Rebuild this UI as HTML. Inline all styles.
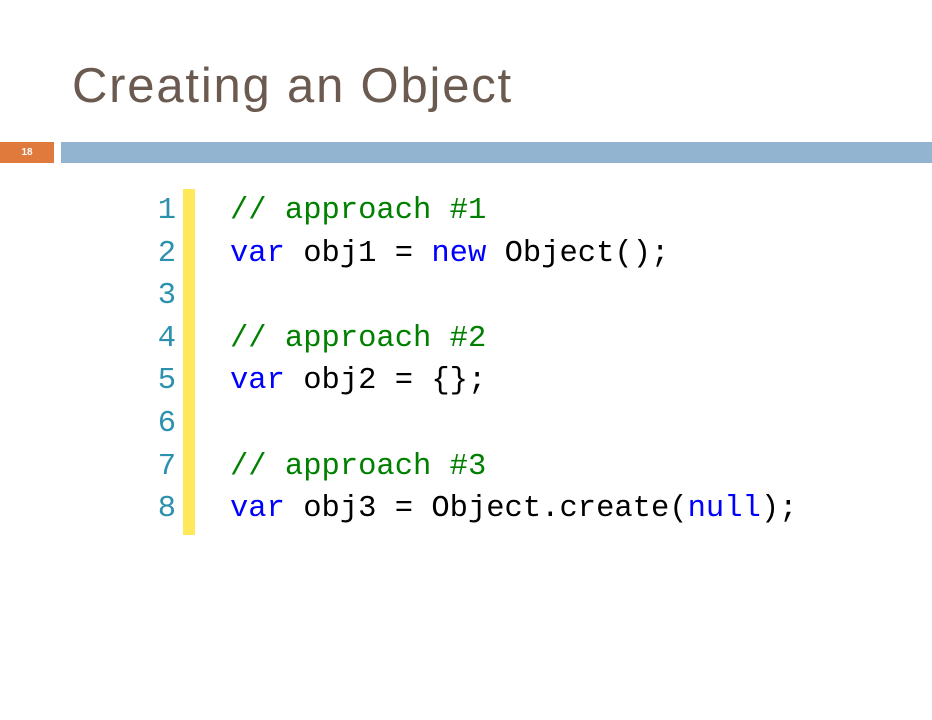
<!DOCTYPE html>
<html><head><style>
body{margin:0;width:932px;height:720px;background:#fff;position:relative;overflow:hidden;font-family:"Liberation Sans",sans-serif}
.t{position:absolute;left:72px;top:58px;font-size:49px;color:#6b5a4f;white-space:nowrap;letter-spacing:1.8px}
.o{position:absolute;left:0;top:142px;width:54px;height:21px;background:#e07a3c;color:#fff;font-size:10px;font-weight:bold;line-height:21px;text-align:center}
.b{position:absolute;left:61px;top:142px;width:871px;height:21px;background:#93b4d0}
.y{position:absolute;left:183px;top:189px;width:12px;height:346px;background:#ffe95a}
.code{position:absolute;top:190px;font-family:"Liberation Mono",monospace;font-size:30.5px;line-height:42.6px;white-space:pre}
.n{left:120px;width:56px;text-align:right;color:#2b91af}
.c{left:230px;color:#000}
.g{color:#008000}.k{color:#0000ff}
</style></head><body>
<div class="t">Creating an Object</div>
<div class="o">18</div><div class="b"></div>
<div class="y"></div>
<div class="code n">1
2
3
4
5
6
7
8</div>
<div class="code c"><span class="g">// approach #1</span>
<span class="k">var</span> obj1 = <span class="k">new</span> Object();

<span class="g">// approach #2</span>
<span class="k">var</span> obj2 = {};

<span class="g">// approach #3</span>
<span class="k">var</span> obj3 = Object.create(<span class="k">null</span>);</div>
</body></html>
